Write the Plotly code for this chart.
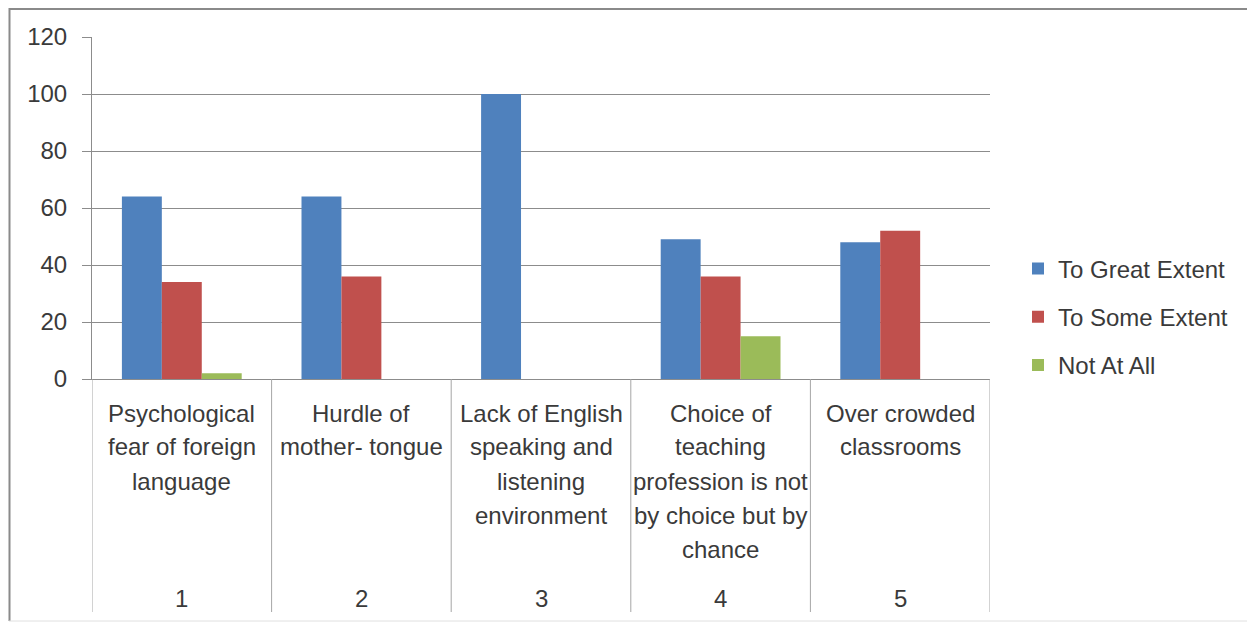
import plotly.graph_objects as go

# ---- data ----
group_numbers = ["1", "2", "3", "4", "5"]
category_labels = [
    "Psychological<br>fear of foreign<br>language",
    "Hurdle of<br>mother- tongue",
    "Lack of English<br>speaking and<br>listening<br>environment",
    "Choice of<br>teaching<br>profession is not<br>by choice but by<br>chance",
    "Over crowded<br>classrooms",
]
series_names = ["To Great Extent", "To Some Extent", "Not At All"]
to_great_extent = [64, 64, 100, 49, 48]
to_some_extent = [34, 36, 0, 36, 52]
not_at_all = [2, 0, 0, 15, 0]
y_ticks = [0, 20, 40, 60, 80, 100, 120]

series_values = [to_great_extent, to_some_extent, not_at_all]
colors = ["#4F81BD", "#C0504D", "#9BBB59"]

FONT = "Liberation Sans, Arial, sans-serif"
FS = 24
TXT = "#3a3a3a"
GRID = "#8c8c8c"

OFF = 8  # page body margin in the browser
W, H = 1255 - OFF, 624 - OFF
L, R, T, B = 92 - OFF, 990 - OFF, 37 - OFF, 379 - OFF   # plot area pixel bounds in figure
pw, ph = R - L, B - T

def py(pix):  # reference-page pixel y -> paper y
    return (B - (pix - OFF)) / ph

def px(pix):  # reference-page pixel x -> paper x
    return ((pix - OFF) - L) / pw

xpos = list(range(len(group_numbers)))

fig = go.Figure()
for name, vals, col in zip(series_names, series_values, colors):
    fig.add_trace(go.Bar(
        x=xpos, y=vals, name=name, marker=dict(color=col, line=dict(width=0)),
        legendgroup=name,
    ))

shapes = []
annotations = []
# category dividers
for i in range(len(group_numbers) + 1):
    shapes.append(dict(type="line", xref="x", yref="paper",
                       x0=i - 0.5, x1=i - 0.5, y0=0, y1=py(612),
                       line=dict(color="#a6a6a6", width=1)))

# category labels (per-line annotations for Excel-like line spacing)
for i, (lab, num) in enumerate(zip(category_labels, group_numbers)):
    for j, line in enumerate(lab.split("<br>")):
        annotations.append(dict(
            x=i, xref="x", y=py(413 + 34 * j), yref="paper",
            text=line, showarrow=False, xanchor="center", yanchor="middle",
            font=dict(family=FONT, size=FS, color=TXT)))
    annotations.append(dict(
        x=i, xref="x", y=py(598), yref="paper",
        text=num, showarrow=False, xanchor="center", yanchor="middle",
        font=dict(family=FONT, size=FS, color=TXT)))

# outer chart border
shapes.append(dict(type="line", xref="paper", yref="paper",
                   x0=px(9), x1=px(1255), y0=py(9), y1=py(9),
                   line=dict(color="#8a8a8a", width=2)))
shapes.append(dict(type="line", xref="paper", yref="paper",
                   x0=px(9.5), x1=px(9.5), y0=py(8), y1=py(621),
                   line=dict(color="#8a8a8a", width=2)))
shapes.append(dict(type="line", xref="paper", yref="paper",
                   x0=px(9), x1=px(1255), y0=py(621), y1=py(621),
                   line=dict(color="#e0e0e0", width=1)))

fig.update_layout(
    width=W, height=H,
    margin=dict(l=L, r=W - R, t=T, b=H - B),
    paper_bgcolor="white", plot_bgcolor="white",
    barmode="group", bargap=0.333, bargroupgap=0,
    font=dict(family=FONT, size=FS, color=TXT),
    xaxis=dict(range=[-0.5, 4.5], showticklabels=False, showgrid=False,
               zeroline=False, showline=True, linecolor=GRID, linewidth=1,
               ticks="", fixedrange=True),
    yaxis=dict(range=[0, 120], tickvals=y_ticks, showgrid=True, gridcolor=GRID,
               gridwidth=1, zeroline=False, showline=True, linecolor=GRID,
               linewidth=1, ticks="outside", ticklen=9, tickcolor=GRID,
               ticklabelstandoff=10,
               tickfont=dict(family=FONT, size=FS, color=TXT)),
    legend=dict(x=px(1018), xanchor="left", y=py(317), yanchor="middle",
                font=dict(family=FONT, size=FS, color=TXT),
                tracegroupgap=14, bgcolor="rgba(0,0,0,0)", itemclick=False),
    shapes=shapes, annotations=annotations,
    showlegend=True,
)

fig.write_html("out.html")
